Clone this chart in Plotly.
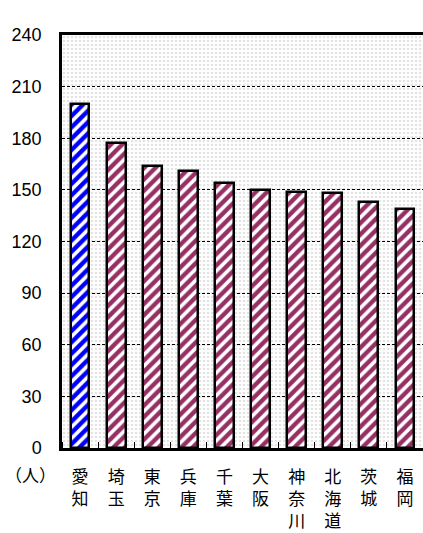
import plotly.graph_objects as go

prefectures = ["愛知", "埼玉", "東京", "兵庫", "千葉", "大阪", "神奈川", "北海道", "茨城", "福岡"]
values = [200, 177, 164, 161, 154, 150, 149, 148, 143, 139]
y_ticks = [0, 30, 60, 90, 120, 150, 180, 210, 240]
unit_label = "（人）"

tick_text = ["<br>".join(list(p)) for p in prefectures]
xs = list(range(len(prefectures)))
colors = ["#0000FF"] + ["#963064"] * (len(prefectures) - 1)
patterns = ["/"] * len(prefectures)

fig = go.Figure()

# background dotted pattern (lower subplot)
fig.add_trace(go.Bar(
    x=[(len(xs) - 1) / 2], y=[y_ticks[-1]], width=[len(xs)],
    marker=dict(color="white", line=dict(width=0),
                pattern=dict(shape=".", fgcolor="#c8c8c8", bgcolor="white", size=4, solidity=0.35)),
    xaxis="x", yaxis="y", hoverinfo="skip", showlegend=False,
))

# data bars (upper subplot, with grid)
fig.add_trace(go.Bar(
    x=xs, y=values, width=0.52,
    marker=dict(color="white", line=dict(color="black", width=2.5),
                pattern=dict(shape=patterns, fgcolor=colors, fgopacity=1, bgcolor="white",
                             size=8, solidity=0.55)),
    xaxis="x2", yaxis="y2", showlegend=False,
))

xr = [-0.5, len(xs) - 0.5]
fig.update_layout(
    width=423, height=533,
    margin=dict(l=62, r=0, t=35, b=85, autoexpand=False),
    paper_bgcolor="white", plot_bgcolor="rgba(0,0,0,0)",
    bargap=0,
    xaxis=dict(range=xr, visible=False, domain=[0, 1], anchor="y"),
    yaxis=dict(range=[0, 240], visible=False, domain=[0, 1], anchor="x"),
    xaxis2=dict(range=xr, domain=[0, 1], anchor="y2", automargin=False,
                tickmode="array", tickvals=xs, ticktext=tick_text,
                ticks="", showline=True, linecolor="black", linewidth=2.5, mirror=True,
                showgrid=False, zeroline=False,
                minor=dict(ticks="inside", tick0=0.5, dtick=1, ticklen=6, tickcolor="black", tickwidth=1),
                ticklabelstandoff=12,
                tickfont=dict(family="Noto Sans CJK JP", size=17, color="black")),
    yaxis2=dict(range=[0, 240], domain=[0, 1], anchor="x2", automargin=False,
                tickmode="array", tickvals=y_ticks,
                ticks="", showline=True, linecolor="black", linewidth=2.5,
                showgrid=True, gridcolor="black", gridwidth=1, griddash="3px,2px",
                zeroline=False, ticklabelstandoff=14,
                tickfont=dict(family="Liberation Sans", size=18, color="black")),
    annotations=[dict(text=unit_label, xref="paper", yref="paper", x=-0.086, y=-0.063,
                      xanchor="center", yanchor="middle", showarrow=False,
                      font=dict(family="Noto Sans CJK JP", size=17, color="black"))],
)

fig.write_html("out.html", config={"displayModeBar": False},
               post_script="document.body.style.margin='0';")
